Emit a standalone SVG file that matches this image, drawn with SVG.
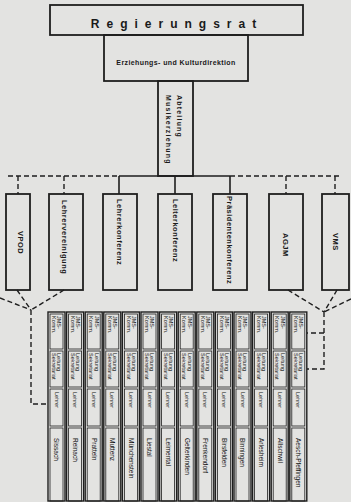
<svg xmlns="http://www.w3.org/2000/svg" width="351" height="502" viewBox="0 0 351 502">
<style>
.bg{fill:#e3e3e1}
.box{fill:none;stroke:#1e1e1e;stroke-width:1.8}
.col{fill:none;stroke:#1e1e1e;stroke-width:1.4}
.cell{fill:none;stroke:#1e1e1e;stroke-width:0.8}
.solid{fill:none;stroke:#1e1e1e;stroke-width:1.6}
.dash{fill:none;stroke:#1e1e1e;stroke-width:1.4;stroke-dasharray:5 3}
.t{font-family:"Liberation Sans",Arial,sans-serif;font-weight:bold;fill:#1a1a1a}
.c{font-family:"Liberation Sans Narrow","Liberation Sans",Arial,sans-serif;fill:#111;font-size:5.5px}
.n{font-family:"Liberation Sans Narrow","Liberation Sans",Arial,sans-serif;fill:#111;font-size:6.5px}
.v{font-size:7.5px;letter-spacing:0.5px}
</style>
<rect class="bg" x="0" y="0" width="351" height="502"/>

<g id="connectors">
<path class="solid" d="M119 176 H230 M119 176 V194 M175 176 V194 M230 176 V194"/>
<path class="dash" d="M8 176 H119 M230 176 H342"/>
<path class="dash" d="M18 176 V194 M64 176 V194 M286 176 V194 M335 176 V194"/>
<path class="dash" d="M0 298 L31 310 M17 290 L31 310 M64 290 L31 310 M31 310 V404 H48"/>
<path class="dash" d="M351 299 L324 312 M337 290 L324 312 M288 290 L324 312 M324 312 V369 H307 M324 333 H307"/>
</g>

<g id="regierungsrat">
<rect class="box" x="50" y="5" width="253" height="30" fill="none"/>
<text class="t" x="177" y="28" font-size="12" letter-spacing="7" text-anchor="middle">Regierungsrat</text>
</g>

<g id="erziehungsdirektion">
<rect class="box" x="104" y="35" width="144" height="46" fill="none"/>
<text class="t" x="176" y="65" font-size="7" letter-spacing="0.4" text-anchor="middle">Erziehungs- und Kulturdirektion</text>
</g>

<g id="abteilung">
<rect class="box" x="158" y="81" width="35" height="95" fill="none"/>
<text class="t" font-size="7" letter-spacing="1.2" transform="translate(176.5 95) rotate(90)">Abteilung</text>
<text class="t" font-size="7" letter-spacing="1.2" transform="translate(165.5 95) rotate(90)">Musikerziehung</text>
</g>

<g id="vpod">
<rect class="box" x="6" y="194" width="24" height="96" fill="none"/>
<text class="t v" transform="translate(17.5 231) rotate(90)">VPOD</text>
</g>
<g id="lehrervereinigung">
<rect class="box" x="49" y="194" width="34" height="96" fill="none"/>
<text class="t v" transform="translate(62 200) rotate(90)">Lehrervereinigung</text>
</g>
<g id="lehrerkonferenz">
<rect class="box" x="103" y="194" width="34" height="96" fill="none"/>
<text class="t v" transform="translate(117 199) rotate(90)">Lehrerkonferenz</text>
</g>
<g id="leiterkonferenz">
<rect class="box" x="158" y="194" width="34" height="96" fill="none"/>
<text class="t v" transform="translate(172.5 199) rotate(90)">Leiterkonferenz</text>
</g>
<g id="praesidentenkonferenz">
<rect class="box" x="213" y="194" width="34" height="96" fill="none"/>
<text class="t v" letter-spacing="0.3" transform="translate(227 196) rotate(90)">Präsidentenkonferenz</text>
</g>
<g id="agjm">
<rect class="box" x="269" y="194" width="34" height="96" fill="none"/>
<text class="t v" transform="translate(283 233) rotate(90)">AGJM</text>
</g>
<g id="vms">
<rect class="box" x="322" y="194" width="27" height="96" fill="none"/>
<text class="t v" transform="translate(333 233) rotate(90)">VMS</text>
</g>

<g id="schulen">
<defs>
<g id="colframe">
<rect class="col" x="0" y="312" width="17" height="189" fill="none"/>
<rect class="cell" x="2" y="314" width="13" height="35" fill="none"/>
<rect class="cell" x="2" y="351" width="13" height="36" fill="none"/>
<rect class="cell" x="2" y="389" width="13" height="37" fill="none"/>
<rect class="cell" x="2" y="428" width="13" height="73" fill="none"/>
<text class="c" transform="translate(9.4 316) rotate(90)">JMS-</text>
<text class="c" transform="translate(4.2 316) rotate(90)">Komm.</text>
<text class="c" transform="translate(9.4 353) rotate(90)">Leitung</text>
<text class="c" transform="translate(4.2 353) rotate(90)">Sekretariat</text>
<text class="c" transform="translate(6.6 392) rotate(90)">Lehrer</text>
</g>
</defs>
<g id="s01" transform="translate(48 0)"><use href="#colframe"/><text class="n" transform="translate(6.3 438) rotate(90)">Sissach</text></g>
<g id="s02" transform="translate(66.6 0)"><use href="#colframe"/><text class="n" transform="translate(6.3 438) rotate(90)">Reinach</text></g>
<g id="s03" transform="translate(85.2 0)"><use href="#colframe"/><text class="n" transform="translate(6.3 438) rotate(90)">Pratteln</text></g>
<g id="s04" transform="translate(103.8 0)"><use href="#colframe"/><text class="n" transform="translate(6.3 438) rotate(90)">Muttenz</text></g>
<g id="s05" transform="translate(122.4 0)"><use href="#colframe"/><text class="n" transform="translate(6.3 438) rotate(90)">Münchenstein</text></g>
<g id="s06" transform="translate(141 0)"><use href="#colframe"/><text class="n" transform="translate(6.3 438) rotate(90)">Liestal</text></g>
<g id="s07" transform="translate(159.6 0)"><use href="#colframe"/><text class="n" transform="translate(6.3 438) rotate(90)">Leimental</text></g>
<g id="s08" transform="translate(178.2 0)"><use href="#colframe"/><text class="n" transform="translate(6.3 438) rotate(90)">Gelterkinden</text></g>
<g id="s09" transform="translate(196.8 0)"><use href="#colframe"/><text class="n" transform="translate(6.3 438) rotate(90)">Frenkendorf</text></g>
<g id="s10" transform="translate(215.4 0)"><use href="#colframe"/><text class="n" transform="translate(6.3 438) rotate(90)">Birsfelden</text></g>
<g id="s11" transform="translate(234 0)"><use href="#colframe"/><text class="n" transform="translate(6.3 438) rotate(90)">Binningen</text></g>
<g id="s12" transform="translate(252.6 0)"><use href="#colframe"/><text class="n" transform="translate(6.3 438) rotate(90)">Arlesheim</text></g>
<g id="s13" transform="translate(271.2 0)"><use href="#colframe"/><text class="n" transform="translate(6.3 438) rotate(90)">Allschwil</text></g>
<g id="s14" transform="translate(289.8 0)"><use href="#colframe"/><text class="n" transform="translate(6.3 438) rotate(90)">Aesch-Pfeffingen</text></g>
</g>
</svg>
